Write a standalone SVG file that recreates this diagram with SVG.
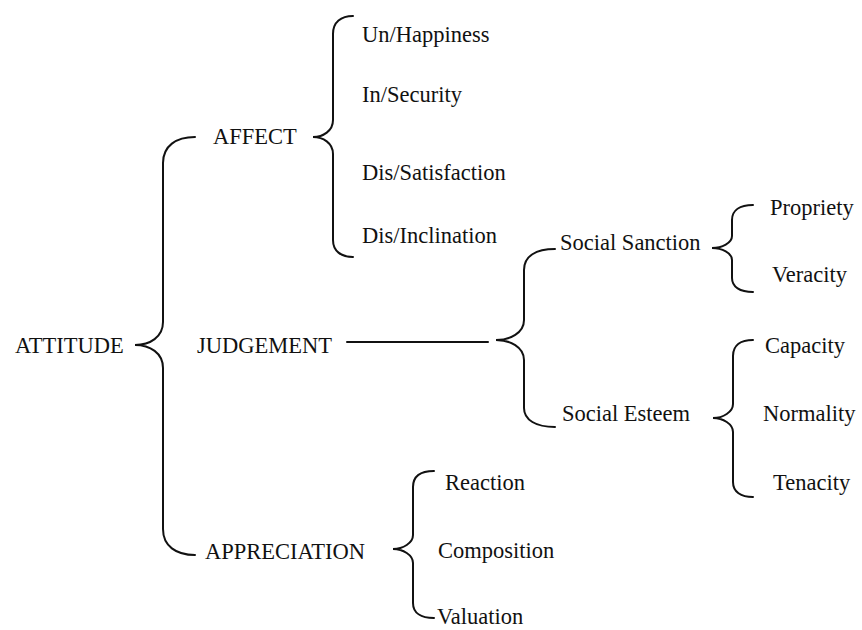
<svg xmlns="http://www.w3.org/2000/svg" width="862" height="630" viewBox="0 0 862 630">
<style>
text{font-family:"Liberation Serif","Times New Roman",serif;font-size:22.5px;fill:#111}
.b{fill:none;stroke:#111;stroke-width:2;stroke-linecap:round;stroke-linejoin:miter}
</style>
<rect width="862" height="630" fill="#fff"/>
<g id="connectors">
<path class="b" d="M195,137 C176,137 163,146 163,163 L163,322 C163,337 150,345 135,345 C150,345 163,353 163,368 L163,529 C163,546 176,555 195,555"/>
<path class="b" d="M353,16 C341,16 333,22 333,34 L333,120 C333,131 323,137 313,137 C323,137 333,143 333,154 L333,240 C333,251 341,257 353,257"/>
<path class="b" d="M347,342 L488,342"/>
<path class="b" d="M555,249 C536,249 524,256 524,270 L524,320 C524,333 510,340 496,340 C510,340 524,347 524,360 L524,408 C524,420 536,427 555,427"/>
<path class="b" d="M753,205 C740,205 732,210 732,220 L732,236 C732,243 722,248 712,248 C722,248 732,253 732,260 L732,278 C732,287 740,292 753,292"/>
<path class="b" d="M753,340 C741,340 733,345 733,356 L733,404 C733,412 723,418 713,418 C723,418 733,424 733,432 L733,482 C733,492 741,497 753,497"/>
<path class="b" d="M434,471 C421,471 413,476 413,487 L413,535 C413,543 403,549 393,549 C403,549 413,555 413,563 L413,603 C413,613 421,618 434,618"/>
</g>
<g id="attitude"><text x="15" y="353">ATTITUDE</text></g>
<g id="affect"><text x="213" y="144">AFFECT</text></g>
<g id="judgement"><text x="197" y="353">JUDGEMENT</text></g>
<g id="appreciation"><text x="205" y="559">APPRECIATION</text></g>
<g id="unhappiness"><text x="362" y="42">Un/Happiness</text></g>
<g id="insecurity"><text x="362" y="102">In/Security</text></g>
<g id="dissatisfaction"><text x="362" y="180">Dis/Satisfaction</text></g>
<g id="disinclination"><text x="362" y="243">Dis/Inclination</text></g>
<g id="social-sanction"><text x="560" y="250">Social Sanction</text></g>
<g id="social-esteem"><text x="562" y="421">Social Esteem</text></g>
<g id="propriety"><text x="770" y="215">Propriety</text></g>
<g id="veracity"><text x="772" y="282">Veracity</text></g>
<g id="capacity"><text x="765" y="353">Capacity</text></g>
<g id="normality"><text x="763" y="421">Normality</text></g>
<g id="tenacity"><text x="773" y="490">Tenacity</text></g>
<g id="reaction"><text x="445" y="490">Reaction</text></g>
<g id="composition"><text x="438" y="558">Composition</text></g>
<g id="valuation"><text x="437" y="624">Valuation</text></g>
</svg>
